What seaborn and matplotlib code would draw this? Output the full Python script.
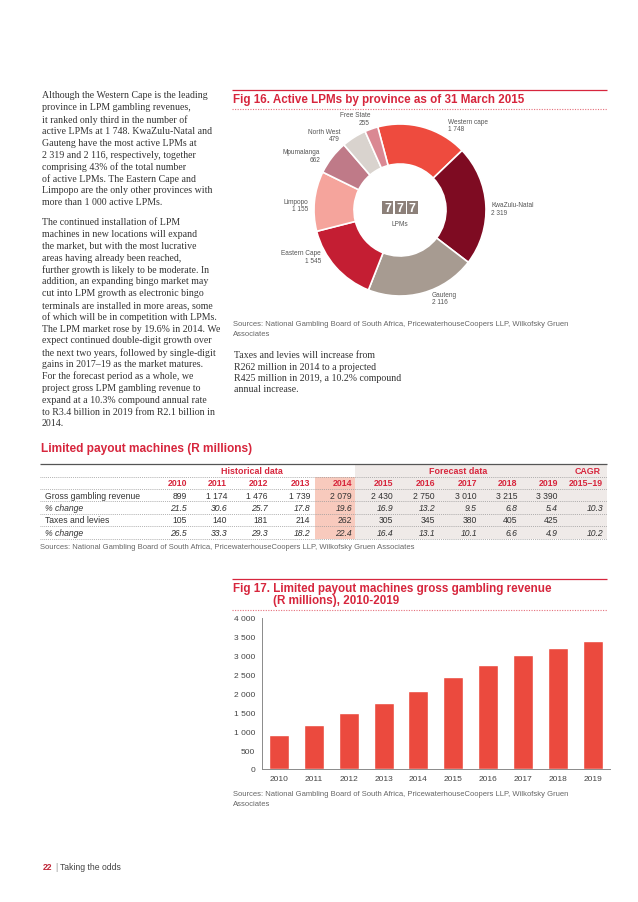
import matplotlib
matplotlib.use("Agg")
import matplotlib.pyplot as plt
import seaborn as sns
import pandas as pd
from matplotlib.patches import Rectangle
from matplotlib.ticker import FuncFormatter

sns.set_theme(style="white")
plt.rcParams['font.family'] = ['Liberation Sans', 'DejaVu Sans']

W, H = 638, 903

# ---------------- data ----------------
provinces = ["Western cape", "KwaZulu-Natal", "Gauteng", "Eastern Cape",
             "Limpopo", "Mpumalanga", "North West", "Free State"]
active_lpms = [1748, 2319, 2116, 1545, 1155, 662, 479, 255]
province_colors = ["#EE4B3E", "#7E0B22", "#A79B91", "#C41E33",
                   "#F5A49C", "#BF7A88", "#D9D3CE", "#DA8893"]

years = [2010, 2011, 2012, 2013, 2014, 2015, 2016, 2017, 2018, 2019]
gross_revenue = [899, 1174, 1476, 1739, 2079, 2430, 2750, 3010, 3215, 3390]
gross_change = [21.5, 30.6, 25.7, 17.8, 19.6, 16.9, 13.2, 9.5, 6.8, 5.4]
taxes_levies = [105, 140, 181, 214, 262, 305, 345, 380, 405, 425]
taxes_change = [26.5, 33.3, 29.3, 18.2, 22.4, 16.4, 13.1, 10.1, 6.6, 4.9]
cagr_label = "2015–19"
cagr_values = [None, 10.3, None, 10.2]
row_labels = ["Gross gambling revenue", "% change", "Taxes and levies", "% change"]

para1 = [
    "Although the Western Cape is the leading",
    "province in LPM gambling revenues,",
    "it ranked only third in the number of",
    "active LPMs at 1 748. KwaZulu-Natal and",
    "Gauteng have the most active LPMs at",
    "2 319 and 2 116, respectively, together",
    "comprising 43% of the total number",
    "of active LPMs. The Eastern Cape and",
    "Limpopo are the only other provinces with",
    "more than 1 000 active LPMs.",
]
para2 = [
    "The continued installation of LPM",
    "machines in new locations will expand",
    "the market, but with the most lucrative",
    "areas having already been reached,",
    "further growth is likely to be moderate. In",
    "addition, an expanding bingo market may",
    "cut into LPM growth as electronic bingo",
    "terminals are installed in more areas, some",
    "of which will be in competition with LPMs.",
    "The LPM market rose by 19.6% in 2014. We",
    "expect continued double-digit growth over",
    "the next two years, followed by single-digit",
    "gains in 2017–19 as the market matures.",
    "For the forecast period as a whole, we",
    "project gross LPM gambling revenue to",
    "expand at a 10.3% compound annual rate",
    "to R3.4 billion in 2019 from R2.1 billion in",
    "2014.",
]
para3 = [
    "Taxes and levies will increase from",
    "R262 million in 2014 to a projected",
    "R425 million in 2019, a 10.2% compound",
    "annual increase.",
]
sources = "Sources: National Gambling Board of South Africa, PricewaterhouseCoopers LLP, Wilkofsky Gruen"

RED = "#D7263D"
DOT_RED = "#E5707C"
TXT = "#333333"
GREY = "#666666"


def fmt_int(v):
    return f"{v:,}".replace(",", " ")


fig = plt.figure(figsize=(W / 100, H / 100), dpi=100)
fig.patch.set_facecolor("white")

# overlay axes in pixel coordinates
ax0 = fig.add_axes([0, 0, 1, 1])
ax0.set_xlim(0, W)
ax0.set_ylim(H, 0)
ax0.axis("off")


def hline(y, x1, x2, color, lw=0.8, dotted=False):
    ls = (0, (1, 1.3)) if dotted else "-"
    ax0.plot([x1, x2], [y, y], color=color, lw=lw, ls=ls, solid_capstyle="butt")


# ---------------- left body text ----------------
serif = ['Liberation Serif', 'DejaVu Serif']
BODY = 7.15
for i, line in enumerate(para1):
    ax0.text(42, 95 + 11.85 * i, line, family=serif, fontsize=BODY, color=TXT,
             ha="left", va="center_baseline")
for i, line in enumerate(para2):
    ax0.text(42, 221.5 + 11.85 * i, line, family=serif, fontsize=BODY, color=TXT,
             ha="left", va="center_baseline")
for i, line in enumerate(para3):
    ax0.text(234, 355 + 11.3 * i, line, family=serif, fontsize=BODY, color=TXT,
             ha="left", va="center_baseline")

# ---------------- Fig 16 donut ----------------
hline(91, 232, 607, RED, lw=0.9)
ax0.text(233, 100.5, "Fig 16. Active LPMs by province as of 31 March 2015",
         fontsize=8.4, fontweight="bold", color=RED, ha="left", va="center")
hline(110, 232, 607, DOT_RED, lw=0.8, dotted=True)

cx, cy = 400, 211
ax_d = fig.add_axes([(cx - 100) / W, 1 - (cy + 100) / H, 200 / W, 200 / H])
ax_d.pie(active_lpms, colors=province_colors, radius=86, startangle=105,
         counterclock=False,
         wedgeprops=dict(width=40, edgecolor="white", linewidth=1.2))
ax_d.set_xlim(-100, 100)
ax_d.set_ylim(-100, 100)
ax_d.patch.set_visible(False)
ax_d.axis("off")

# label anchors (pixel coordinates on page) and alignment
label_layout = {
    "Western cape": (448, 126, "left"),
    "KwaZulu-Natal": (491, 209.5, "left"),
    "Gauteng": (432, 299, "left"),
    "Eastern Cape": (321, 257.5, "right"),
    "Limpopo": (308, 206, "right"),
    "Mpumalanga": (320, 156.5, "right"),
    "North West": (340, 136, "right"),
    "Free State": (370, 119.5, "right"),
}
for name, val in zip(provinces, active_lpms):
    lx, ly, ha = label_layout[name]
    ax0.text(lx, ly, f"{name}\n{fmt_int(val)}", fontsize=4.7, color="#555555",
             ha=ha, va="center", multialignment=ha, linespacing=1.15)

# 777 slot machine icon in centre
for k in (-1, 0, 1):
    bx = k * 12.3
    ax_d.add_patch(Rectangle((bx - 5.5, 2.5 - 6.5), 11, 13, color="#8C8079", lw=0))
    ax_d.text(bx, 2.5, "7", color="white", fontsize=9, fontweight="bold",
              ha="center", va="center")
ax_d.text(0, -14, "LPMs", color="#555555", fontsize=4.7, ha="center", va="center")

ax0.text(233, 325, sources, fontsize=5.5, color=GREY, ha="left", va="center")
ax0.text(233, 334.5, "Associates", fontsize=5.5, color=GREY, ha="left", va="center")

# ---------------- table ----------------
ax0.text(41, 449, "Limited payout machines (R millions)", fontsize=8.6,
         fontweight="bold", color=RED, ha="left", va="center")

col_right = [187, 227, 268, 310, 352, 393, 435, 477, 517, 558]
cagr_x = 603
tx1, tx2 = 40, 607
ax0.add_patch(Rectangle((355, 465), 607 - 355, 539.5 - 465, color="#EFEAE8", lw=0, zorder=0))
ax0.add_patch(Rectangle((315, 478), 40, 539.5 - 478, color="#F8CABD", lw=0, zorder=0))
hline(465, tx1, tx2, "#555555", lw=0.9)

hdr_y = 471.7
ax0.text(252, hdr_y, "Historical data", fontsize=6.4, fontweight="bold", color=RED,
         ha="center", va="center")
ax0.text(458, hdr_y, "Forecast data", fontsize=6.4, fontweight="bold", color=RED,
         ha="center", va="center")
ax0.text(cagr_x - 2, hdr_y, "CAGR", fontsize=6.4, fontweight="bold", color=RED,
         ha="right", va="center")

dot_lines = [477.5, 490, 502, 514.5, 527, 539.5]
for yl in dot_lines:
    hline(yl, tx1, tx2, "#9A9A9A", lw=0.6, dotted=True)

yr_y = 484
for x, yv in zip(col_right, years):
    ax0.text(x, yr_y, str(yv), fontsize=6.3, fontweight="bold", color=RED,
             ha="right", va="center")
ax0.text(cagr_x, yr_y, cagr_label, fontsize=6.3, fontweight="bold", color=RED,
         ha="right", va="center")

row_y = [496.3, 508.6, 521, 533.3]
rows = [
    [fmt_int(v) for v in gross_revenue],
    [f"{v:.1f}" for v in gross_change],
    [fmt_int(v) for v in taxes_levies],
    [f"{v:.1f}" for v in taxes_change],
]
for r, (lab, vals, yy, cg) in enumerate(zip(row_labels, rows, row_y, cagr_values)):
    style = "italic" if r % 2 == 1 else "normal"
    ax0.text(45, yy, lab, fontsize=6.2, color=TXT, style=style, ha="left", va="center")
    for x, s in zip(col_right, vals):
        ax0.text(x, yy, s, fontsize=6.2, color=TXT, style=style, ha="right", va="center")
    if cg is not None:
        ax0.text(cagr_x, yy, f"{cg:.1f}", fontsize=6.2, color=TXT, style=style,
                 ha="right", va="center")

ax0.text(40, 547.5, sources + " Associates", fontsize=5.5, color=GREY,
         ha="left", va="center")

# ---------------- Fig 17 bar chart ----------------
hline(579.5, 232, 607, RED, lw=0.9)
ax0.text(233, 589.5, "Fig 17. Limited payout machines gross gambling revenue",
         fontsize=8.4, fontweight="bold", color=RED, ha="left", va="center")
ax0.text(273, 601, "(R millions), 2010-2019",
         fontsize=8.4, fontweight="bold", color=RED, ha="left", va="center")
hline(611, 232, 607, DOT_RED, lw=0.8, dotted=True)

ax_b = fig.add_axes([262 / W, 1 - 770 / H, (610 - 262) / W, (770 - 619) / H])
df = pd.DataFrame({"year": [str(y) for y in years], "revenue": gross_revenue})
sns.barplot(data=df, x="year", y="revenue", color="#EB4A3E", saturation=1,
            width=0.57, ax=ax_b)
ax_b.set_xlim(-0.49, 9.5)
ax_b.set_ylim(0, 4000)
ax_b.set_yticks(range(0, 4001, 500))
ax_b.yaxis.set_major_formatter(FuncFormatter(lambda v, p: fmt_int(int(v))))
ax_b.set_xlabel("")
ax_b.set_ylabel("")
ax_b.patch.set_visible(False)
for s in ("top", "right"):
    ax_b.spines[s].set_visible(False)
for s in ("left", "bottom"):
    ax_b.spines[s].set_color("#8A8A8A")
    ax_b.spines[s].set_linewidth(0.7)
ax_b.tick_params(axis="both", length=0, labelsize=6.0, labelcolor="#444444")
ax_b.tick_params(axis="y", pad=5)
ax_b.tick_params(axis="x", pad=4)

ax0.text(233, 795, sources, fontsize=5.5, color=GREY, ha="left", va="center")
ax0.text(233, 804.5, "Associates", fontsize=5.5, color=GREY, ha="left", va="center")

# ---------------- footer ----------------
ax0.text(42.5, 868, "22", fontsize=6.2, fontweight="bold", color="#C0283A",
         ha="left", va="center")
ax0.text(55.5, 868, "|", fontsize=6.2, color="#999999", ha="left", va="center")
ax0.text(60.5, 868, "Taking the odds", fontsize=6.2, color="#444444",
         ha="left", va="center")

fig.savefig("out.png", dpi=100, facecolor="white")
